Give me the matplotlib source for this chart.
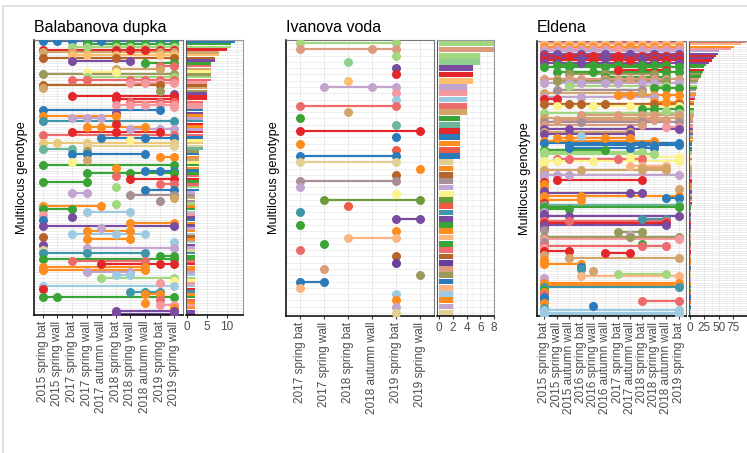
import matplotlib
matplotlib.use("Agg")
import matplotlib.pyplot as plt
from matplotlib.patches import Rectangle

plt.rcParams['font.family'] = ['Liberation Sans', 'DejaVu Sans']

W, H = 747, 453

# ---------------- DATA ----------------
bd_title = "Balabanova dupka"
bd_cats = ["2015 spring bat", "2015 spring wall", "2017 spring bat", "2017 spring wall",
           "2017 autumn wall", "2018 spring bat", "2018 spring wall", "2018 autumn wall",
           "2019 spring bat", "2019 spring wall"]
bd_occ = [
    [0, 1, 2, 3, 4, 8, 9], [3, 5, 6, 7, 8, 9], [2, 3, 5, 6, 7, 8, 9], [0, 5, 6, 7, 8, 9],
    [0, 2, 8, 9], [2, 3, 5, 8, 9], [0, 5, 9], [2, 6], [7, 9], [8, 9],
    [5, 8], [3, 5], [0, 9], [3, 9], [2, 3, 6, 7, 8, 9], [6, 7, 8, 9], [0, 8], [0], [8], [9],
    [2, 5, 9], [5, 9], [6, 8, 9], [5, 6, 7, 8, 9], [9], [0, 8], [5], [0, 5], [2, 3, 4], [0, 9],
    [5], [3, 4, 7], [6, 8, 9], [2, 5, 8], [0, 9], [4, 7, 9], [6], [0, 1, 3, 9], [3, 9], [0, 2],
    [3], [2, 3, 7], [8, 9], [3], [2], [0, 9], [5], [7, 8, 9], [3, 6, 9], [5],
    [6, 9], [0, 3], [8, 9], [5], [7, 9], [2, 3], [6, 9], [9], [8], [5],
    [0, 4], [0, 2], [3, 6], [0], [2], [0], [6, 9], [0, 9], [4], [3, 6],
    [2, 5, 7], [0], [3, 6], [9], [0], [3, 9], [0], [0, 3, 7], [8, 9], [0, 9],
    [2, 7], [4, 8, 9], [0, 7], [0, 7], [3, 6], [5, 6], [4, 9], [9], [8], [0, 9],
    [0], [6, 7, 8], [7, 8], [0, 1, 9], [8], [7], [8, 9], [9], [5, 9], [5, 9],
]
bd_counts = [12, 11, 11, 10, 8, 8, 7, 7, 6, 6, 6, 6, 6, 6, 6, 5, 5, 5, 5, 5,
             5, 5, 4, 4, 4, 4, 4, 4, 4, 4, 4, 4, 4, 4, 4, 4, 4, 4, 4, 4,
             3, 3, 3, 3, 3, 3, 3, 3, 3, 3, 3, 3, 3, 3, 3] + [2] * 45

iv_title = "Ivanova voda"
iv_cats = ["2017 spring bat", "2017 spring wall", "2018 spring bat", "2018 autumn wall",
           "2019 spring bat", "2019 spring wall"]
iv_occ = [
    [0, 4], [0, 3, 4], [4], [2], [4], [4], [2], [1, 3, 4], [4], [4],
    [0, 4], [2], [0], [4], [0, 5], [4], [0], [4], [0, 4], [0, 4],
    [5], [4], [0, 4], [0], [4], [1, 5], [2], [0], [4, 5], [0],
    [4], [2, 4], [1], [0], [4], [4], [1], [5], [0, 1], [0],
    [4], [4], [4], [4],
]
iv_counts = [8, 8, 6, 6, 5, 5, 5, 4, 4, 4, 4, 4, 3, 3, 3, 3, 3, 3, 3] + [2] * 25

el_title = "Eldena"
el_cats = ["2015 spring bat", "2015 spring wall", "2015 autumn wall", "2016 spring bat",
           "2016 spring wall", "2016 autumn wall", "2017 spring bat", "2017 autumn wall",
           "2018 spring bat", "2018 spring wall", "2018 autumn wall", "2019 spring bat"]
el_occ = [
    [0, 1, 2, 3, 4, 5, 6, 7, 8, 9, 10, 11], [0, 1, 2, 3, 4, 5, 6, 7, 8, 9, 10, 11],
    [0, 1, 2, 3, 4, 5, 6, 7, 8, 9, 10, 11], [0, 1, 2, 3, 4, 5, 6, 8, 9, 10, 11],
    [0, 1, 2, 3, 4, 5, 7, 8, 9, 10, 11], [0, 1, 3, 5, 7, 9, 11], [0, 2, 3, 4, 6, 8, 9, 10, 11],
    [0, 1, 3, 5, 7, 8, 9, 10, 11], [0, 1, 4, 6, 7, 9, 10, 11], [0, 1, 3, 8, 9, 11],
    [1, 2, 4, 6, 8, 9, 10], [0, 2, 5, 8, 11], [6, 10], [1, 4, 10, 11], [2, 5, 9],
    [5, 10], [0, 1, 2, 3, 5, 6, 7, 8, 9, 10, 11], [1, 5, 10], [0, 2, 3, 5, 6, 8, 9, 11], [2, 10],
    [9, 10, 11], [1, 8], [0, 8], [6, 7, 9, 10, 11], [0, 3, 9], [0, 1], [9, 10, 11],
    [0, 2, 3, 5, 9, 11], [1, 4, 7, 11], [8, 9, 11], [10], [0, 11], [3, 6, 8, 9, 11], [0, 8, 11],
    [1, 3, 8, 9, 10], [0, 3, 8, 11], [0, 8], [10, 11], [0, 2, 7, 11], [0, 7],
    [0, 7], [3], [1, 2, 5, 7], [0, 9], [0, 11], [2, 8, 9, 11], [2, 7, 9], [0, 5], [0, 8], [0, 9],
    [7, 11], [1, 2, 6, 8], [0, 1, 4, 11], [0], [7, 8, 10], [8, 10], [0, 3, 8, 10], [0],
    [0, 1, 2, 11], [0], [1, 8], [0], [0], [0], [11], [0], [0, 7, 8], [0, 3, 11], [10, 11],
    [0, 3], [0], [0, 11], [0, 11], [0, 2], [0], [0], [0, 2, 11], [8, 10], [0, 2, 10], [0, 10],
    [0, 10], [0], [0], [6, 8], [7], [0, 7, 11], [0, 11], [0], [8], [0, 8, 10], [0], [0, 2],
    [5, 7], [0], [2, 11], [0], [0], [0, 3], [3], [3], [4], [6, 10], [3, 11], [0], [0],
    [0, 11], [0, 11], [0, 11], [0], [0], [0], [0], [0], [8, 11], [0], [4], [0], [0, 11],
    [0, 11], [0, 11],
]
el_counts = [98, 89, 76, 71, 51, 48, 45, 41, 39, 33, 28, 25, 24, 22, 21, 19,
             16, 14, 13, 12, 12, 11, 10, 10, 9, 9, 8, 8, 8, 7, 7, 7, 7,
             6, 6, 6, 6, 6, 5, 5, 5, 5, 5, 5, 4, 4, 4, 4, 4, 4, 4, 4] + [3] * 20 + [2] * 48

# ---------------- STYLE ----------------
pal = {
    'blue': '#2b7bba', 'lblue': '#9ecae1', 'green': '#3aa335', 'lgreen': '#a3d77f',
    'red': '#e3262a', 'pink': '#f49a9f', 'salmon': '#ee6b6b', 'orange': '#fd8d1e',
    'lorange': '#fdbf6f', 'purple': '#7a4c9f', 'lilac': '#c2a5cf', 'yellow': '#fbf28e',
    'brown': '#b5652a', 'tan': '#d2a56a', 'olive': '#9b9a5a', 'teal': '#3f96a8',
    'tealgreen': '#6bb59a', 'mauve': '#a88e95', 'beige': '#e3cf93', 'peach': '#fbb583',
    'ltan': '#e8c97a', 'rosetan': '#dd9b7e', 'mgreen': '#8fcf8f', 'dpurple': '#6a3d9a',
    'redorange': '#ee5a45', 'olivegreen': '#6a9a3a',
}
bd_col = ['blue', 'green', 'lgreen', 'red', 'tan', 'lorange', 'brown', 'purple', 'green', 'salmon',
          'tan', 'yellow', 'olive', 'lgreen', 'salmon', 'pink', 'brown', 'tan', 'olive', 'purple',
          'red', 'red', 'salmon', 'pink', 'pink', 'blue', 'purple', 'orange', 'lilac', 'teal',
          'red', 'orange', 'lilac', 'red', 'salmon', 'blue', 'yellow', 'ltan', 'beige', 'tealgreen',
          'olive', 'blue', 'orange', 'tan', 'yellow', 'green', 'orange', 'blue', 'green', 'salmon',
          'red', 'green', 'salmon', 'lgreen', 'blue', 'lilac', 'mauve', 'tan', 'mauve', 'lgreen',
          'orange', 'green', 'lblue', 'pink', 'purple', 'blue', 'orange', 'purple', 'lilac', 'orange',
          'lblue', 'brown', 'orange', 'lblue', 'purple', 'lilac', 'beige', 'teal', 'green', 'green',
          'salmon', 'red', 'orange', 'orange', 'lilac', 'lblue', 'lgreen', 'yellow', 'pink', 'lblue',
          'red', 'teal', 'orange', 'green', 'salmon', 'orange', 'pink', 'orange', 'purple', 'purple']
iv_col = ['lgreen', 'rosetan', 'lgreen', 'mgreen', 'purple', 'red', 'lorange', 'lilac', 'pink', 'lblue',
          'salmon', 'tan', 'green', 'tealgreen', 'red', 'blue', 'orange', 'redorange', 'blue', 'beige',
          'orange', 'brown', 'mauve', 'lilac', 'yellow', 'olivegreen', 'redorange', 'teal', 'purple', 'green',
          'orange', 'peach', 'green', 'salmon', 'brown', 'dpurple', 'rosetan', 'olive', 'blue', 'peach',
          'lblue', 'orange', 'lilac', 'beige']
el_col = ['salmon', 'peach', 'orange', 'pink', 'lilac', 'purple', 'red', 'purple', 'red', 'purple',
          'green', 'green', 'red', 'green', 'olive', 'green', 'rosetan', 'olive', 'lilac', 'lgreen',
          'green', 'mauve', 'tan', 'orange', 'lilac', 'red', 'orange', 'brown', 'yellow', 'green',
          'lgreen', 'lgreen', 'rosetan', 'tan', 'rosetan', 'mauve', 'rosetan', 'pink', 'purple', 'tan',
          'purple', 'lblue', 'orange', 'orange', 'blue', 'blue', 'blue', 'green', 'lgreen', 'lgreen',
          'yellow', 'salmon', 'yellow', 'yellow', 'peach', 'tan', 'tan', 'tan', 'lilac', 'lilac',
          'red', 'red', 'orange', 'orange', 'tan', 'purple', 'purple', 'orange', 'blue', 'orange',
          'red', 'tealgreen', 'green', 'green', 'lilac', 'purple', 'purple', 'teal', 'salmon', 'red',
          'purple', 'purple', 'mauve', 'olive', 'lilac', 'olive', 'pink', 'mauve', 'green', 'salmon',
          'pink', 'red', 'red', 'tan', 'tan', 'orange', 'orange', 'orange', 'blue', 'teal',
          'tan', 'lgreen', 'peach', 'lilac', 'lilac', 'orange', 'orange', 'teal', 'green', 'orange',
          'salmon', 'blue', 'blue', 'salmon', 'orange', 'blue', 'teal', 'lblue', 'lblue', 'lblue']

GRID = '#e6e6e6'
TICKC = '#4d4d4d'

fig = plt.figure(figsize=(W / 100, H / 100), dpi=100)
fig.patch.set_facecolor('white')


def rect(x0, y0, x1, y1):
    return [x0 / W, 1 - y1 / H, (x1 - x0) / W, (y1 - y0) / H]


def style_axes(ax):
    ax.set_facecolor('white')
    for s in ['top', 'right']:
        ax.spines[s].set_color('#777777')
        ax.spines[s].set_linewidth(0.8)
    for s in ['left', 'bottom']:
        ax.spines[s].set_color('black')
        ax.spines[s].set_linewidth(1.1)
    ax.tick_params(axis='x', direction='out', length=2.5, width=0.8, color='#333333',
                   labelcolor=TICKC, labelsize=8.5, pad=1.5)
    ax.tick_params(axis='y', length=0, labelleft=False)


def panel(dot_box, bar_box, title, cats, occ, counts, cols, bar_ticks, bar_xlim):
    n = len(occ)
    ax = fig.add_axes(rect(*dot_box))
    style_axes(ax)
    for i in range(n):
        ax.axhline(i, color=GRID, lw=0.5, zorder=0)
    for k in range(len(cats)):
        ax.axvline(k, color=GRID, lw=0.6, zorder=0)
    for i, (o, c) in enumerate(zip(occ, cols)):
        colr = pal[c]
        if len(o) > 1:
            ax.plot([min(o), max(o)], [i, i], color=colr, lw=1.6,
                    solid_capstyle='butt', zorder=2)
        ax.scatter(o, [i] * len(o), s=42, color=colr, linewidths=0, zorder=3)
    ax.set_xlim(-0.6, len(cats) - 1 + 0.6)
    ax.set_ylim(n - 0.5, -0.5)
    ax.set_xticks(range(len(cats)))
    ax.set_xticklabels(cats, rotation=90, ha='center', va='top')
    ax.set_yticks([])

    bx = fig.add_axes(rect(*bar_box))
    style_axes(bx)
    for s in ['top', 'right']:
        bx.spines[s].set_color('#999999')
    bx.spines['left'].set_color('#555555')
    bx.spines['left'].set_linewidth(0.8)
    for i in range(n):
        bx.axhline(i, color=GRID, lw=0.5, zorder=0)
    step = bar_ticks[1] - bar_ticks[0]
    v = bar_ticks[0] - step / 2
    while v <= bar_xlim[1]:
        bx.axvline(v, color=GRID, lw=0.6 if (v - bar_ticks[0]) % step == 0 else 0.4, zorder=0)
        v += step / 2
    bx.barh(range(n), counts, height=0.9, color=[pal[c] for c in cols], zorder=2, linewidth=0)
    bx.set_ylim(n - 0.5, -0.5)
    bx.set_xlim(*bar_xlim)
    bx.set_xticks(bar_ticks)
    bx.set_xticklabels([str(t) for t in bar_ticks])
    bx.set_yticks([])

    x0, y0, x1, y1 = dot_box
    fig.text(x0 / W, 1 - 32 / H, title, fontsize=11.5, color='black', ha='left', va='baseline')
    fig.text((x0 - 12) / W, 1 - ((y0 + y1) / 2) / H, "Multilocus genotype", rotation=90,
             fontsize=9.2, color='black', ha='center', va='center')


panel((34, 40, 183, 315), (186, 40, 243, 315), bd_title, bd_cats, bd_occ, bd_counts, bd_col,
      [0, 5, 10], (-0.25, 14))
panel((286, 40, 434, 316), (437, 40, 494, 316), iv_title, iv_cats, iv_occ, iv_counts, iv_col,
      [0, 2, 4, 6, 8], (-0.3, 8))
panel((537, 41, 686, 316), (689, 41, 747, 316), el_title, el_cats, el_occ, el_counts, el_col,
      [0, 25, 50, 75], (-1.5, 99))

# outer frame of the screenshot
fig.add_artist(Rectangle((3 / W, -0.1), 1.2, 1 + 0.1 - 6 / H, transform=fig.transFigure,
                         fill=False, edgecolor='#dddddd', lw=1.2))

fig.savefig("out.png", dpi=100)
